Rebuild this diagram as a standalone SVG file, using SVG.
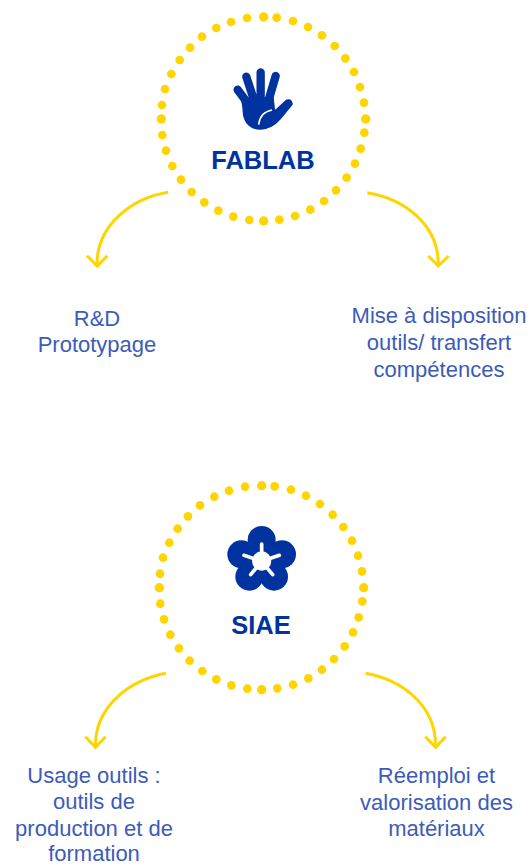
<svg xmlns="http://www.w3.org/2000/svg" width="529" height="866" viewBox="0 0 529 866">
<style>
.conn{fill:none;stroke:#ffd500;stroke-width:3;stroke-linecap:butt;stroke-linejoin:miter}
.dot{fill:#ffd500}
.t{font-family:"Liberation Sans",Arial,sans-serif;font-size:22px;fill:#3c5cb8;text-anchor:middle}
.h{font-family:"Liberation Sans",Arial,sans-serif;font-size:25.5px;font-weight:700;fill:#0033a0;text-anchor:middle}
.i{fill:#0033a0}
</style>
<defs>
<g id="ring" class="dot" transform="translate(150,5) scale(.33333)">
<circle cx="341" cy="36" r="14"/><circle cx="380" cy="38" r="13"/><circle cx="429" cy="48" r="13"/><circle cx="474" cy="66" r="13"/><circle cx="516" cy="91" r="13"/><circle cx="554" cy="123" r="13"/><circle cx="586" cy="160" r="13"/><circle cx="612" cy="201" r="13"/><circle cx="630" cy="246" r="13"/><circle cx="642" cy="293" r="13"/><circle cx="647" cy="342" r="14"/><circle cx="643" cy="383" r="13"/><circle cx="632" cy="431" r="13"/><circle cx="615" cy="476" r="13"/><circle cx="590" cy="518" r="13"/><circle cx="558" cy="556" r="13"/><circle cx="522" cy="588" r="13"/><circle cx="481" cy="614" r="13"/><circle cx="435" cy="633" r="13"/><circle cx="388" cy="644" r="13"/><circle cx="341" cy="648" r="14"/><circle cx="298" cy="645" r="13"/><circle cx="250" cy="635" r="13"/><circle cx="205" cy="617" r="13"/><circle cx="163" cy="592" r="13"/><circle cx="125" cy="561" r="13"/><circle cx="93" cy="524" r="13"/><circle cx="67" cy="483" r="13"/><circle cx="48" cy="437" r="13"/><circle cx="37" cy="390" r="13"/><circle cx="34" cy="342" r="14"/><circle cx="36" cy="300" r="13"/><circle cx="45" cy="252" r="13"/><circle cx="64" cy="207" r="13"/><circle cx="89" cy="165" r="13"/><circle cx="120" cy="128" r="13"/><circle cx="156" cy="95" r="13"/><circle cx="199" cy="69" r="13"/><circle cx="243" cy="51" r="13"/><circle cx="291" cy="39" r="13"/>
</g>
</defs>
<g id="connectors" class="conn">
<path d="M168.300,192.300C132,198 97,225 97,264"/><path d="M87,255.700L97.300,266L107.300,255.700"/>
<path d="M367.300,192.700C405,199 438.300,225 438.300,264"/><path d="M428.300,256L438.300,266L448.700,256"/>
<path d="M166,673.300C130,680 95.500,706 95.500,745"/><path d="M85.300,736.700L95.500,747.300L105.700,736.700"/>
<path d="M365.500,673.300C403,680 435.500,706 435.500,745"/><path d="M425.300,736.700L435.500,747.300L445.700,736.700"/>
</g>
<g id="fablab">
<use href="#ring"/>
<g transform="translate(225,60) scale(.33333)">
<g fill="none" stroke="#0033a0" stroke-width="25" stroke-linecap="round"><path d="M38,89L72,135M64,50L90,130M107,37V130M152,48L128,130M152,165L190,130"/></g>
<path class="i" d="M46,108L72,118L95,112L118,112L146,112L150,148C155,152 160,150 168,143L188,120L204,132C190,150 180,163 167,178C150,198 128,209 105,209C73,209 54,185 53,155C52,135 48,122 46,108Z"/>
<path d="M101,194C103,172 115,155 141,150" fill="none" stroke="#fff" stroke-width="4.500"/>
</g>
<text class="h" x="263" y="169">FABLAB</text>
</g>
<g id="siae">
<use href="#ring" transform="translate(-2,468.7)"/>
<g transform="translate(220,520) scale(.33333)">
<g class="i"><circle cx="125" cy="60" r="42"/><circle cx="64" cy="103" r="42"/><circle cx="186" cy="103" r="42"/><circle cx="88" cy="170" r="42"/><circle cx="162" cy="170" r="42"/><circle cx="125" cy="122" r="35"/></g>
<circle cx="125" cy="123" r="29" fill="#fff"/>
<path d="M125,72V120M72,106L125,124M178,106L125,124M92,164L125,124M158,164L125,124" fill="none" stroke="#fff" stroke-width="11" stroke-linecap="round"/>
</g>
<text class="h" x="261" y="634">SIAE</text>
</g>
<g id="rd"><text class="t" x="97" y="326">R&amp;D</text><text class="t" x="97" y="352">Prototypage</text></g>
<g id="mise"><text class="t" x="439" y="323">Mise à disposition</text><text class="t" x="439" y="350">outils/ transfert</text><text class="t" x="439" y="377">compétences</text></g>
<g id="usage"><text class="t" x="94" y="783">Usage outils :</text><text class="t" x="94" y="809">outils de</text><text class="t" x="94" y="836">production et de</text><text class="t" x="94" y="861">formation</text></g>
<g id="reemploi"><text class="t" x="436.500" y="783">Réemploi et</text><text class="t" x="436.500" y="810">valorisation des</text><text class="t" x="436.500" y="836">matériaux</text></g>
</svg>
